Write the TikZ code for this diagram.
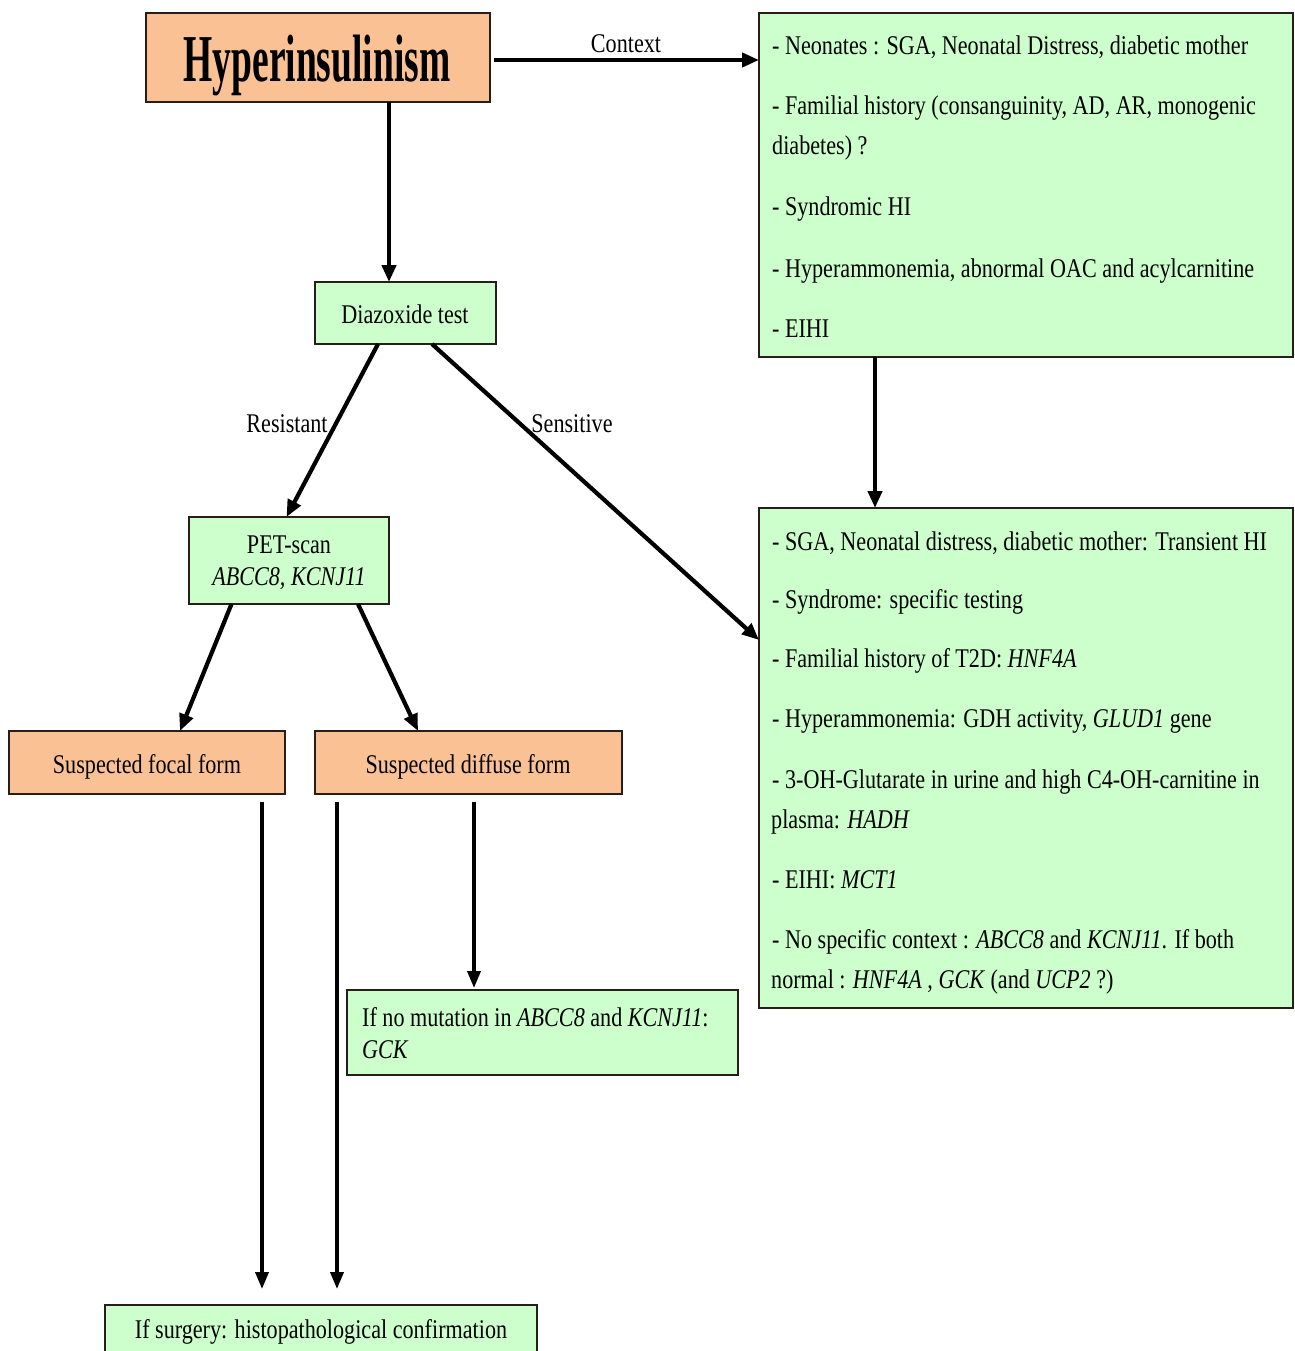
\documentclass[tikz,border=0pt]{standalone}
\usepackage{fontspec}
\setmainfont{Liberation Serif}[FakeStretch=0.82]
\newfontfamily\hyfont{Liberation Serif}[FakeStretch=0.56]
\usetikzlibrary{arrows.meta}
\definecolor{boxgreen}{RGB}{204,255,204}
\definecolor{boxorange}{RGB}{250,194,148}
\definecolor{edgecol}{RGB}{40,30,25}
\begin{document}
\begin{tikzpicture}[x=1pt,y=-1pt,
  box/.style={draw=edgecol, line width=1.5pt, anchor=north west, inner sep=0pt, outer sep=0pt},
  gbox/.style={box, fill=boxgreen},
  obox/.style={box, fill=boxorange},
  txt/.style={inner sep=0pt, anchor=base west, font=\fontsize{27}{32}\selectfont},
  ctxt/.style={txt, anchor=base},
  arr/.style={line width=4.2pt, -{Triangle[length=17pt,width=14pt]}},
  thinarr/.style={line width=3.6pt, -{Triangle[length=17pt,width=13pt]}},
]
\useasboundingbox (0,0) rectangle (1294,1351);
\fill[white] (0,0) rectangle (1294,1351);
\clip (0,0) rectangle (1294,1351);

% boxes
\node[obox, minimum width=344pt, minimum height=89pt] (hyper) at (146,13) {};
\node[gbox, minimum width=534pt, minimum height=344pt] (ctx) at (759,13) {};
\node[gbox, minimum width=181pt, minimum height=62pt] (diaz) at (315,282) {};
\node[gbox, minimum width=534pt, minimum height=500pt] (res) at (759,508) {};
\node[gbox, minimum width=200pt, minimum height=87pt] (pet) at (189,517) {};
\node[obox, minimum width=276pt, minimum height=63pt] (focal) at (9,731) {};
\node[obox, minimum width=307pt, minimum height=63pt] (diff) at (315,731) {};
\node[gbox, minimum width=391pt, minimum height=85pt] (mut) at (347,990) {};
\node[gbox, minimum width=432pt, minimum height=60pt] (surg) at (105,1305) {};

% texts
\node[inner sep=0pt, anchor=base, font=\hyfont\fontsize{67}{72}\selectfont\bfseries] (hypert) at (317,82) {Hyperinsulinism};
\node[ctxt] (lcontext) at (626,53) {Context};
\node[ctxt] (diazt) at (405,323) {Diazoxide test};
\node[ctxt] (lres) at (287,432) {Resistant};
\node[ctxt] (lsen) at (572,432) {Sensitive};
\node[ctxt] (pett1) at (289,553) {PET-scan};
\node[ctxt] (pett2) at (289,585) {\textit{ABCC8, KCNJ11}};
\node[ctxt] (focalt) at (147,773) {Suspected focal form};
\node[ctxt] (difft) at (468,773) {Suspected diffuse form};
\node[txt] (mutt1) at (362,1026) {If no mutation in \textit{ABCC8} and \textit{KCNJ11}:};
\node[txt] (mutt2) at (362,1058) {\textit{GCK}};
\node[ctxt] (surgt) at (321,1338) {If surgery: histopathological confirmation};

\node[txt] (c1) at (772,55) {- Neonates : SGA, Neonatal Distress, diabetic mother};
\node[txt] (c2) at (772,115) {- Familial history (consanguinity, AD, AR, monogenic};
\node[txt] (c3) at (772,155) {diabetes) ?};
\node[txt] (c4) at (772,215) {- Syndromic HI};
\node[txt] (c5) at (772,277) {- Hyperammonemia, abnormal OAC and acylcarnitine};
\node[txt] (c6) at (772,337) {- EIHI};

\node[txt] (r1) at (772,550) {- SGA, Neonatal distress, diabetic mother: Transient HI};
\node[txt] (r2) at (772,608) {- Syndrome: specific testing};
\node[txt] (r3) at (772,667) {- Familial history of T2D: \textit{HNF4A}};
\node[txt] (r4) at (772,727) {- Hyperammonemia: GDH activity, \textit{GLUD1} gene};
\node[txt] (r5) at (772,788) {- 3-OH-Glutarate in urine and high C4-OH-carnitine in};
\node[txt] (r6) at (771,828) {plasma: \textit{HADH}};
\node[txt] (r7) at (772,888) {- EIHI: \textit{MCT1}};
\node[txt] (r8) at (772,948) {- No specific context : \textit{ABCC8} and \textit{KCNJ11}. If both};
\node[txt] (r9) at (771,988) {normal : \textit{HNF4A} , \textit{GCK} (and \textit{UCP2} ?)};

% connectors
\draw[arr, shorten <=4pt] (hyper.east |- ctx.north west) ++(0,47) coordinate (hA) (hA) -- (hA -| ctx.west);
\draw[arr] ([xshift=71pt]hyper.south) -- ([xshift=-16.5pt]diaz.north);
\draw[arr] ([xshift=-151pt]ctx.south) -- ([xshift=-151pt]res.north);
\draw[arr] ([xshift=-27.5pt]diaz.south) -- ([xshift=-2.5pt]pet.north);
\draw[arr] ([xshift=26.5pt]diaz.south) -- ([yshift=118pt]res.west);
\draw[arr] ([xshift=-57.5pt]pet.south) -- ([xshift=33pt]focal.north);
\draw[arr] ([xshift=69pt]pet.south) -- ([xshift=-50.5pt]diff.north);
\draw[thinarr, shorten <=8pt, shorten >=16pt] ([xshift=115pt]focal.south) -- ([xshift=-59pt]surg.north);
\draw[thinarr, shorten <=8pt, shorten >=16pt] ([xshift=-131.5pt]diff.south) -- ([xshift=16pt]surg.north);
\draw[thinarr, shorten <=8pt, shorten >=2pt] ([xshift=5.5pt]diff.south) -- ([xshift=-68.5pt]mut.north);
\end{tikzpicture}
\end{document}
